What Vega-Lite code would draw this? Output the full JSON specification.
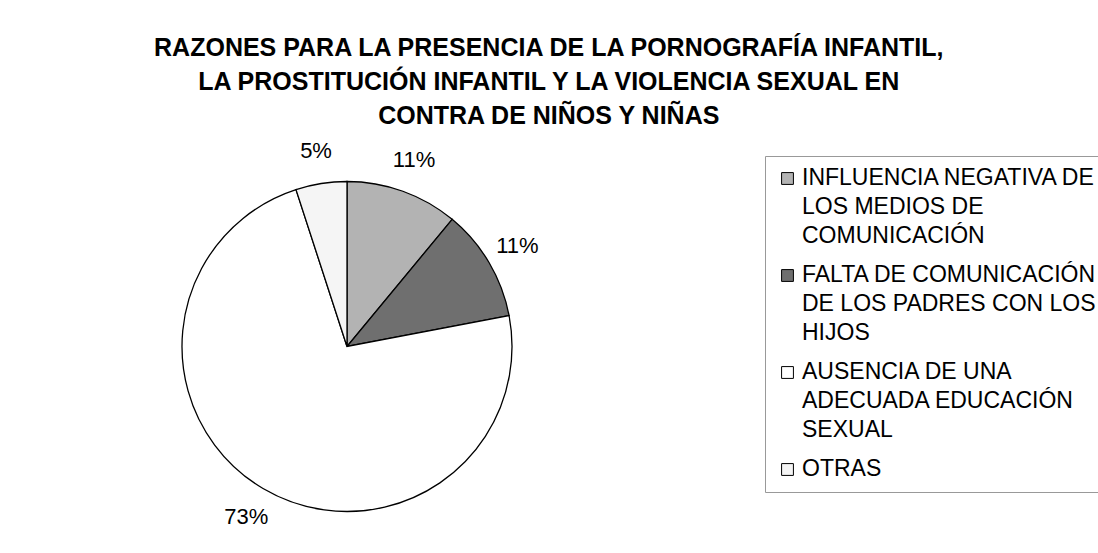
{
  "$schema": "https://vega.github.io/schema/vega-lite/v6.json",
  "width": 684,
  "height": 385,
  "padding": {"left": 5, "top": 35, "right": 0, "bottom": 5},
  "background": "white",
  "config": {"view": {"stroke": null}, "font": "Liberation Sans"},
  "title": {
    "text": ["RAZONES PARA LA PRESENCIA DE LA PORNOGRAFÍA INFANTIL,", "LA PROSTITUCIÓN INFANTIL Y LA VIOLENCIA SEXUAL EN", "CONTRA DE NIÑOS Y NIÑAS"],
    "font": "Liberation Sans",
    "fontSize": 25,
    "fontWeight": "bold",
    "lineHeight": 34,
    "anchor": "middle",
    "frame": "bounds",
    "dx": -8,
    "offset": 11,
    "color": "black"
  },
  "data": {
    "values": [
      {"razon": "INFLUENCIA NEGATIVA DE LOS MEDIOS DE COMUNICACIÓN", "pct": 11, "orden": 1, "etiqueta": "11%"},
      {"razon": "FALTA DE COMUNICACIÓN DE LOS PADRES CON LOS HIJOS", "pct": 11, "orden": 2, "etiqueta": "11%"},
      {"razon": "AUSENCIA DE UNA ADECUADA EDUCACIÓN SEXUAL", "pct": 73, "orden": 3, "etiqueta": "73%"},
      {"razon": "OTRAS", "pct": 5, "orden": 4, "etiqueta": "5%"}
    ]
  },
  "encoding": {
    "theta": {"field": "pct", "type": "quantitative", "stack": true},
    "order": {"field": "orden", "type": "quantitative"},
    "color": {
      "field": "razon",
      "type": "nominal",
      "sort": ["INFLUENCIA NEGATIVA DE LOS MEDIOS DE COMUNICACIÓN", "FALTA DE COMUNICACIÓN DE LOS PADRES CON LOS HIJOS", "AUSENCIA DE UNA ADECUADA EDUCACIÓN SEXUAL", "OTRAS"],
      "scale": {
        "domain": ["INFLUENCIA NEGATIVA DE LOS MEDIOS DE COMUNICACIÓN", "FALTA DE COMUNICACIÓN DE LOS PADRES CON LOS HIJOS", "AUSENCIA DE UNA ADECUADA EDUCACIÓN SEXUAL", "OTRAS"],
        "range": ["#b3b3b3", "#6f6f6f", "#ffffff", "#f5f5f5"]
      },
      "legend": {
        "title": null,
        "orient": "none",
        "legendX": 760,
        "legendY": 2,
        "symbolType": "square",
        "symbolSize": 140,
        "symbolStrokeColor": "black",
        "symbolStrokeWidth": 1,
        "symbolOpacity": 1,
        "labelFont": "Liberation Sans",
        "labelFontSize": 23,
        "labelColor": "black",
        "labelLimit": 500,
        "labelBaseline": "top",
        "labelOffset": 3,
        "rowPadding": 15,
        "strokeColor": "#999999",
        "padding": 11,
        "encode": {"labels": {"update": {"lineHeight": {"value": 29}, "dy": {"value": -12}}}},
        "labelExpr": "datum.label == 'INFLUENCIA NEGATIVA DE LOS MEDIOS DE COMUNICACIÓN' ? ['INFLUENCIA NEGATIVA DE', 'LOS MEDIOS DE', 'COMUNICACIÓN'] : datum.label == 'FALTA DE COMUNICACIÓN DE LOS PADRES CON LOS HIJOS' ? ['FALTA DE COMUNICACIÓN', 'DE LOS PADRES CON LOS', 'HIJOS'] : datum.label == 'AUSENCIA DE UNA ADECUADA EDUCACIÓN SEXUAL' ? ['AUSENCIA DE UNA', 'ADECUADA EDUCACIÓN', 'SEXUAL'] : datum.label"
      }
    }
  },
  "layer": [
    {"mark": {"type": "arc", "outerRadius": 165, "stroke": "black", "strokeWidth": 1.3}},
    {
      "mark": {"type": "text", "radius": 198, "fontSize": 22, "font": "Liberation Sans", "color": "black"},
      "encoding": {"text": {"field": "etiqueta"}, "color": {"value": "black"}}
    }
  ]
}
